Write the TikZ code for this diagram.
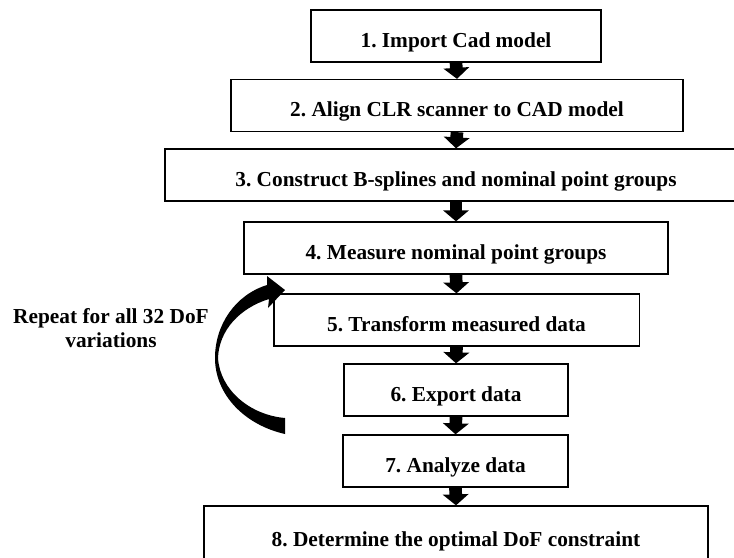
\documentclass[tikz,border=0pt]{standalone}
\usepackage{fontspec}
\setmainfont{Liberation Serif}
\usetikzlibrary{arrows.meta}
\frenchspacing
\begin{document}
\begin{tikzpicture}[x=0.75pt,y=-0.75pt,
  stepbox/.style={draw,line width=1pt,minimum height=39pt,inner sep=0pt,
    font=\fontsize{16}{18}\selectfont\bfseries,text height=17pt,text depth=0pt},
  flow/.style={line width=9.5pt,-{Triangle[width=19pt,length=8.25pt]}}]
\useasboundingbox (0,0) rectangle (734,557);

\node[stepbox,minimum width=217.5pt] (s1) at (456,36) {1. Import Cad model};
\node[stepbox,minimum width=339pt] (s2) at (457,105.5) {2. Align CLR scanner to CAD model};
\node[stepbox,minimum width=436.5pt] (s3) at (456,175) {3. Construct B-splines and nominal point groups};
\node[stepbox,minimum width=318pt] (s4) at (456,248) {4. Measure nominal point groups};
\node[stepbox,minimum width=274pt] (s5) at (456.5,320) {5. Transform measured data};
\node[stepbox,minimum width=168pt] (s6) at (456,390) {6. Export data};
\node[stepbox,minimum width=168.75pt] (s7) at (455.5,461) {7. Analyze data};
\node[stepbox,minimum width=378pt,minimum height=43.5pt] (s8) at (456,535) {8. Determine the optimal DoF constraint};

\foreach \a/\b in {s1/s2,s2/s3,s3/s4,s4/s5,s5/s6,s6/s7,s7/s8}
  \draw[flow] (\a.south) -- (\b.north);

% loop back arrow
\fill (285,434) .. controls (245,425) and (215,395) .. (215,358)
  .. controls (215,325) and (235,295) .. (267,285)
  -- (267,276) -- (285,290) -- (268,308) -- (269,299)
  .. controls (240,308) and (219,330) .. (218,358)
  .. controls (220,390) and (250,415) .. (285,418) -- cycle;

\node[align=center,font=\fontsize{16}{18}\selectfont\bfseries] (rep) at (111,328) {Repeat for all 32 DoF\\variations};
\end{tikzpicture}
\end{document}
